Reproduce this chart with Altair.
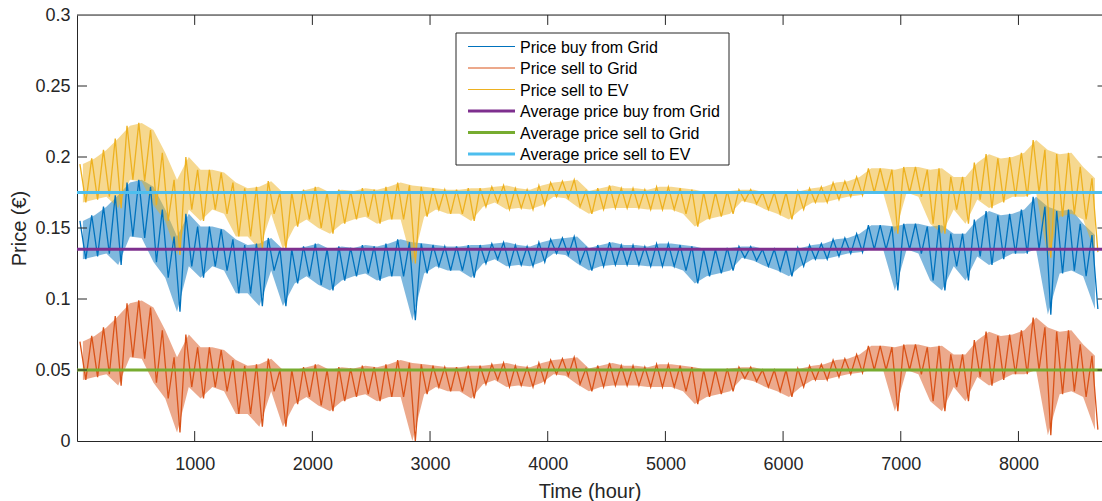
import altair as alt
import pandas as pd

# ---------------- data ----------------
# one high and one low per 100-hour block (blocks 0-100, 100-200, ..., 8600-8700)
block_centers = list(range(50, 8700, 100))
block_hours_high = list(range(25, 8700, 100))
block_hours_low = list(range(75, 8700, 100))

buy_high = [
    0.155, 0.159, 0.165, 0.173, 0.182, 0.184, 0.179, 0.163, 0.144, 0.160,
    0.151, 0.151, 0.149, 0.142, 0.138, 0.139, 0.143, 0.135, 0.135, 0.137,
    0.139, 0.135, 0.137, 0.136, 0.138, 0.137, 0.139, 0.142, 0.140, 0.139,
    0.138, 0.137, 0.137, 0.138, 0.138, 0.139, 0.140, 0.138, 0.137, 0.140,
    0.142, 0.143, 0.144, 0.136, 0.138, 0.140, 0.138, 0.138, 0.137, 0.139,
    0.139, 0.138, 0.137, 0.135, 0.135, 0.136, 0.137, 0.137, 0.135, 0.135,
    0.135, 0.136, 0.138, 0.139, 0.142, 0.143, 0.146, 0.152, 0.152, 0.151,
    0.153, 0.153, 0.151, 0.152, 0.146, 0.146, 0.156, 0.162, 0.159, 0.160,
    0.163, 0.172, 0.165, 0.162, 0.163, 0.153, 0.145]
buy_low = [
    0.128, 0.130, 0.132, 0.124, 0.144, 0.143, 0.126, 0.115, 0.091, 0.123,
    0.115, 0.123, 0.120, 0.104, 0.104, 0.095, 0.120, 0.095, 0.111, 0.116,
    0.110, 0.106, 0.113, 0.116, 0.118, 0.113, 0.116, 0.116, 0.085, 0.118,
    0.123, 0.120, 0.120, 0.115, 0.125, 0.128, 0.123, 0.124, 0.123, 0.126,
    0.132, 0.131, 0.125, 0.120, 0.123, 0.124, 0.124, 0.124, 0.123, 0.123,
    0.123, 0.120, 0.111, 0.116, 0.118, 0.120, 0.129, 0.127, 0.123, 0.120,
    0.116, 0.123, 0.128, 0.128, 0.130, 0.132, 0.133, 0.135, 0.135, 0.106,
    0.135, 0.132, 0.113, 0.106, 0.123, 0.113, 0.130, 0.124, 0.128, 0.132,
    0.132, 0.135, 0.089, 0.118, 0.120, 0.116, 0.093]

grid_high = [
    0.070, 0.074, 0.080, 0.088, 0.097, 0.099, 0.094, 0.078, 0.059, 0.075,
    0.066, 0.066, 0.064, 0.057, 0.053, 0.054, 0.058, 0.050, 0.050, 0.052,
    0.054, 0.050, 0.052, 0.051, 0.053, 0.052, 0.054, 0.057, 0.055, 0.054,
    0.053, 0.052, 0.052, 0.053, 0.053, 0.054, 0.055, 0.053, 0.052, 0.055,
    0.057, 0.058, 0.059, 0.051, 0.053, 0.055, 0.053, 0.053, 0.052, 0.054,
    0.054, 0.053, 0.052, 0.050, 0.050, 0.051, 0.052, 0.052, 0.050, 0.050,
    0.050, 0.051, 0.053, 0.054, 0.057, 0.058, 0.061, 0.067, 0.067, 0.066,
    0.068, 0.068, 0.066, 0.067, 0.061, 0.061, 0.071, 0.077, 0.074, 0.075,
    0.078, 0.087, 0.080, 0.077, 0.078, 0.068, 0.060]
grid_low = [
    0.043, 0.045, 0.047, 0.039, 0.059, 0.058, 0.041, 0.030, 0.006, 0.038,
    0.030, 0.038, 0.035, 0.019, 0.019, 0.010, 0.035, 0.010, 0.026, 0.031,
    0.025, 0.021, 0.028, 0.031, 0.033, 0.028, 0.031, 0.031, 0.000, 0.033,
    0.038, 0.035, 0.035, 0.030, 0.040, 0.043, 0.038, 0.039, 0.038, 0.041,
    0.047, 0.046, 0.040, 0.035, 0.038, 0.039, 0.039, 0.039, 0.038, 0.038,
    0.038, 0.035, 0.026, 0.031, 0.033, 0.035, 0.044, 0.042, 0.038, 0.035,
    0.031, 0.038, 0.043, 0.043, 0.045, 0.047, 0.048, 0.050, 0.050, 0.021,
    0.050, 0.047, 0.028, 0.021, 0.038, 0.028, 0.045, 0.039, 0.043, 0.047,
    0.047, 0.050, 0.004, 0.033, 0.035, 0.031, 0.008]

ev_high = [
    0.195, 0.199, 0.205, 0.213, 0.222, 0.224, 0.219, 0.203, 0.184, 0.200,
    0.191, 0.191, 0.189, 0.182, 0.178, 0.179, 0.183, 0.175, 0.175, 0.177,
    0.179, 0.175, 0.177, 0.176, 0.178, 0.177, 0.179, 0.182, 0.180, 0.179,
    0.178, 0.177, 0.177, 0.178, 0.178, 0.179, 0.180, 0.178, 0.177, 0.180,
    0.182, 0.183, 0.184, 0.176, 0.178, 0.180, 0.178, 0.178, 0.177, 0.179,
    0.179, 0.178, 0.177, 0.175, 0.175, 0.176, 0.177, 0.177, 0.175, 0.175,
    0.175, 0.176, 0.178, 0.179, 0.182, 0.183, 0.186, 0.192, 0.192, 0.191,
    0.193, 0.193, 0.191, 0.192, 0.186, 0.186, 0.196, 0.202, 0.199, 0.200,
    0.203, 0.212, 0.205, 0.202, 0.203, 0.193, 0.185]
ev_low = [
    0.168, 0.170, 0.172, 0.164, 0.184, 0.183, 0.166, 0.155, 0.131, 0.163,
    0.155, 0.163, 0.160, 0.144, 0.144, 0.135, 0.160, 0.135, 0.151, 0.156,
    0.150, 0.146, 0.153, 0.156, 0.158, 0.153, 0.156, 0.156, 0.125, 0.158,
    0.163, 0.160, 0.160, 0.155, 0.165, 0.168, 0.163, 0.164, 0.163, 0.166,
    0.172, 0.171, 0.165, 0.160, 0.163, 0.164, 0.164, 0.164, 0.163, 0.163,
    0.163, 0.160, 0.151, 0.156, 0.158, 0.160, 0.169, 0.167, 0.163, 0.160,
    0.156, 0.163, 0.168, 0.168, 0.170, 0.172, 0.173, 0.175, 0.175, 0.146,
    0.175, 0.172, 0.153, 0.146, 0.163, 0.153, 0.170, 0.164, 0.168, 0.172,
    0.172, 0.175, 0.129, 0.158, 0.160, 0.156, 0.133]

avg_values = [0.135, 0.05, 0.175]

names = ["Price buy from Grid", "Price sell to Grid", "Price sell to EV",
         "Average price buy from Grid", "Average price sell to Grid",
         "Average price sell to EV"]
colors = ["#0072BD", "#D95319", "#EDB120", "#7E2F8E", "#77AC30", "#4DBEEE"]
widths = [1, 1, 1, 3, 3, 3]

x_tick_values = [1000, 2000, 3000, 4000, 5000, 6000, 7000, 8000]
y_tick_values = [0.05, 0.1, 0.15, 0.2, 0.25]
y_label_values = [0, 0.05, 0.1, 0.15, 0.2, 0.25, 0.3]

# ---------------- tables ----------------
highs = [buy_high, grid_high, ev_high]
lows = [buy_low, grid_low, ev_low]

line_rows = []
band_rows = []
for name, hi, lo in zip(names[:3], highs, lows):
    for h, v in zip(block_hours_high, hi):
        line_rows.append({"hour": h, "price": v, "series": name})
    for h, v in zip(block_hours_low, lo):
        line_rows.append({"hour": h, "price": v, "series": name})
    for c, a, b in zip(block_centers, lo, hi):
        band_rows.append({"hour": c, "price": a, "high": b, "series": name})
series_df = pd.DataFrame(line_rows)
band_df = pd.DataFrame(band_rows)
avg_df = pd.DataFrame({"series": names[3:], "price": avg_values})

FONT = "Liberation Sans"
AX = "#262626"
XMAX = 8710

x_scale = alt.Scale(domain=[0, XMAX], nice=False, zero=False)
y_scale = alt.Scale(domain=[0, 0.3], nice=False)
color_scale = alt.Scale(domain=names, range=colors)

x_axis = alt.Axis(values=x_tick_values, format="d", labelFont=FONT, labelFontSize=18,
                  labelColor=AX, ticks=False, tickSize=0, labelPadding=14,
                  labelFlush=False, domainColor=AX, domainWidth=1, grid=False,
                  title="Time (hour)", titleFont=FONT, titleFontSize=20,
                  titleFontWeight="normal", titleColor=AX, titleY=56,
                  titleBaseline="alphabetic")
y_axis = alt.Axis(values=y_label_values, format=".2~f", labelFont=FONT, labelFontSize=18,
                  labelColor=AX, ticks=False, tickSize=0, labelPadding=7,
                  domainColor=AX, domainWidth=1, grid=False,
                  title="Price (€)", titleFont=FONT, titleFontSize=20,
                  titleFontWeight="normal", titleColor=AX, titleX=-58,
                  titleAlign="center", titleBaseline="middle", titleAngle=270)

bands = alt.Chart(band_df).mark_area(opacity=0.5, clip=True).encode(
    x=alt.X("hour:Q", scale=x_scale, axis=x_axis),
    y=alt.Y("price:Q", scale=y_scale, axis=y_axis),
    y2="high:Q",
    color=alt.Color("series:N", scale=color_scale, legend=None),
    detail="series:N",
)

lines = alt.Chart(series_df).mark_line(strokeWidth=1.3, clip=True).encode(
    x=alt.X("hour:Q"),
    y=alt.Y("price:Q"),
    color=alt.Color("series:N", scale=color_scale, legend=None),
    detail="series:N",
)

avg_rules = alt.Chart(avg_df).mark_rule(strokeWidth=3).encode(
    y=alt.Y("price:Q"),
    color=alt.Color("series:N", scale=color_scale, legend=None),
)

# frame and inward ticks (MATLAB style box)
top_edge = alt.Chart(pd.DataFrame({"price": [0.3]})).mark_rule(color=AX, strokeWidth=1).encode(
    y="price:Q")
xt = pd.DataFrame({"hour": x_tick_values})
yt = pd.DataFrame({"price": y_tick_values})
bottom_ticks = alt.Chart(xt).mark_rule(color=AX, strokeWidth=1).encode(
    x="hour:Q", y=alt.datum(0), y2=alt.datum(0.007))
top_ticks = alt.Chart(xt).mark_rule(color=AX, strokeWidth=1).encode(
    x="hour:Q", y=alt.datum(0.3), y2=alt.datum(0.293))
left_ticks = alt.Chart(yt).mark_rule(color=AX, strokeWidth=1).encode(
    y="price:Q", x=alt.datum(0), x2=alt.datum(85))
right_ticks = alt.Chart(yt).mark_rule(color=AX, strokeWidth=1).encode(
    y="price:Q", x=alt.datum(XMAX - 38), x2=alt.datum(XMAX))

# legend (box + entries)
legend_layers = [
    alt.Chart(pd.DataFrame({"series": ["legend"]})).mark_rect(
        fill="white", stroke=AX, strokeWidth=1).encode(
        x=alt.value(379), x2=alt.value(652), y=alt.value(18), y2=alt.value(150))
]
for i, (name, col, w) in enumerate(zip(names, colors, widths)):
    ry = 31.5 + 21.5 * i
    entry = pd.DataFrame({"series": [name]})
    legend_layers.append(
        alt.Chart(entry).mark_rule(color=col, strokeWidth=w).encode(
            x=alt.value(391), x2=alt.value(438), y=alt.value(ry)))
    legend_layers.append(
        alt.Chart(entry).mark_text(align="left", baseline="middle", font=FONT,
                                   fontSize=16, color="#000000").encode(
            x=alt.value(443), y=alt.value(ry + 1), text="series:N"))

chart = alt.layer(
    bands, lines, avg_rules, top_edge, bottom_ticks, top_ticks, left_ticks, right_ticks,
    *legend_layers
).properties(
    width=1025, height=426,
    autosize=alt.AutoSizeParams(type="none"),
    padding={"left": 77, "top": 15, "right": 0, "bottom": 60},
).configure_view(stroke=None).configure(background="white")

chart.save("out.html", embed_options={"renderer": "svg", "actions": False})
